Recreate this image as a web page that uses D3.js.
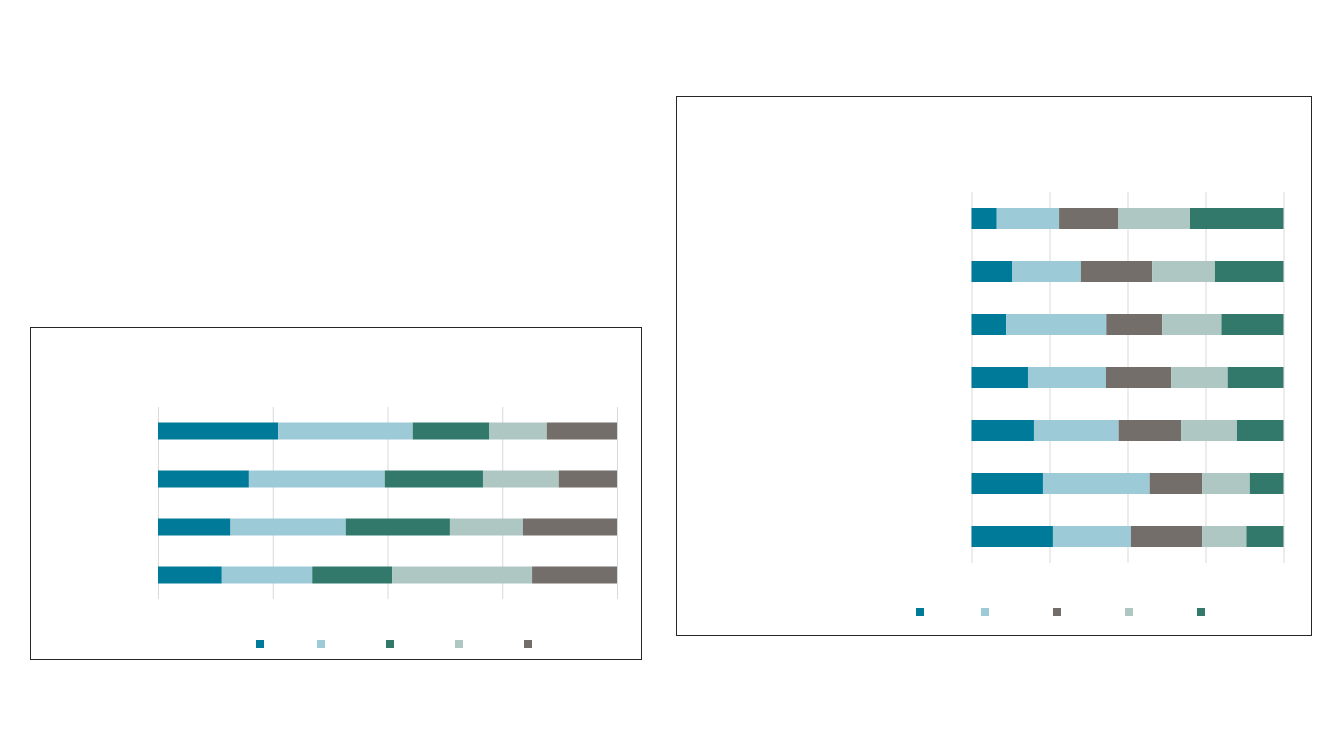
<!DOCTYPE html>
<html>
<head>
<meta charset="utf-8">
<script src="https://cdn.jsdelivr.net/npm/d3@7"></script>
<style>
  body { margin: 0; background: #fff; }
  svg { display: block; }
</style>
</head>
<body>
<svg id="chart" width="1333" height="750"></svg>
<script>
// ---- data (shares in %, rows listed top to bottom) ----
var leftCategories = ["A", "B", "C", "D"];
var leftSeries = ["s1", "s2", "s3", "s4", "s5"];
var leftS1 = [26.2, 19.8, 15.8, 13.9];
var leftS2 = [29.3, 29.6, 25.1, 19.7];
var leftS3 = [16.7, 21.4, 22.7, 17.4];
var leftS4 = [12.5, 16.5, 15.9, 30.5];
var leftS5 = [15.3, 12.7, 20.5, 18.5];

var rightCategories = ["A", "B", "C", "D", "E", "F", "G"];
var rightSeries = ["s1", "s2", "s3", "s4", "s5"];
var rightS1 = [8.1, 13.0, 11.1, 18.1, 20.0, 22.9, 26.1];
var rightS2 = [20.0, 22.1, 32.1, 25.0, 27.1, 34.2, 25.0];
var rightS3 = [18.9, 22.9, 17.9, 20.9, 20.0, 16.8, 22.8];
var rightS4 = [23.1, 20.1, 19.0, 18.1, 17.9, 15.3, 14.2];
var rightS5 = [30.0, 22.0, 19.9, 17.9, 14.9, 10.8, 11.9];

var teal = "#007a99", lightBlue = "#9ccad6", darkGreen = "#32796c",
    pale = "#aec7c3", grey = "#736e6a";

var svg = d3.select("#chart");

function drawChart(cfg) {
  // build row objects for d3.stack
  var rows = cfg.categories.map(function(c, i) {
    var r = { cat: c };
    cfg.series.forEach(function(s, j) { r[s] = cfg.values[j][i]; });
    return r;
  });

  var stack = d3.stack()
    .keys(cfg.series)
    .offset(d3.stackOffsetExpand);
  var layers = stack(rows);

  var x = d3.scaleLinear().domain([0, 1]).range([cfg.plot.x0, cfg.plot.x1]);
  var y = d3.scaleBand()
    .domain(cfg.categories)
    .range([cfg.plot.y0, cfg.plot.y1])
    .paddingInner(cfg.pad)
    .paddingOuter(cfg.pad / 2);
  var color = d3.scaleOrdinal().domain(cfg.series).range(cfg.colors);

  var g = svg.append("g");

  // frame
  g.append("rect")
    .attr("x", cfg.box.x + 0.5).attr("y", cfg.box.y + 0.5)
    .attr("width", cfg.box.w).attr("height", cfg.box.h)
    .attr("fill", "#fff").attr("stroke", "#262626").attr("stroke-width", 1);

  // gridlines
  var grid = g.append("g")
    .attr("transform", "translate(0," + cfg.plot.y1 + ")")
    .call(d3.axisBottom(x)
      .tickValues([0, 0.25, 0.5, 0.75, 1])
      .tickSize(-(cfg.plot.y1 - cfg.plot.y0))
      .tickFormat(""));
  grid.select(".domain").remove();
  grid.selectAll("line").attr("stroke", "#d9d9d9");

  // bars
  g.selectAll(".layer")
    .data(layers)
    .enter().append("g")
    .attr("fill", function(d) { return color(d.key); })
    .selectAll("rect")
    .data(function(d) { return d; })
    .enter().append("rect")
    .attr("x", function(d) { return x(d[0]); })
    .attr("width", function(d) { return x(d[1]) - x(d[0]); })
    .attr("y", function(d) { return y(d.data.cat); })
    .attr("height", y.bandwidth());

  // legend swatches (labels are blank in the original)
  g.selectAll(".swatch")
    .data(cfg.series)
    .enter().append("rect")
    .attr("x", function(d, i) { return cfg.box.x + cfg.legendX[i]; })
    .attr("y", cfg.legendY)
    .attr("width", 8).attr("height", 8)
    .attr("fill", function(d) { return color(d); });
}

drawChart({
  categories: leftCategories,
  series: leftSeries,
  values: [leftS1, leftS2, leftS3, leftS4, leftS5],
  colors: [teal, lightBlue, darkGreen, pale, grey],
  box: { x: 30, y: 327, w: 611, h: 332 },
  plot: { x0: 158, x1: 617, y0: 407, y1: 599 },
  pad: 0.646,
  legendX: [226, 287, 356, 425, 494],
  legendY: 640
});

drawChart({
  categories: rightCategories,
  series: rightSeries,
  values: [rightS1, rightS2, rightS3, rightS4, rightS5],
  colors: [teal, lightBlue, grey, pale, darkGreen],
  box: { x: 676, y: 96, w: 635, h: 539 },
  plot: { x0: 971.5, x1: 1283.5, y0: 192, y1: 563 },
  pad: 0.604,
  legendX: [240, 305, 377, 449, 521],
  legendY: 608
});
</script>
</body>
</html>
